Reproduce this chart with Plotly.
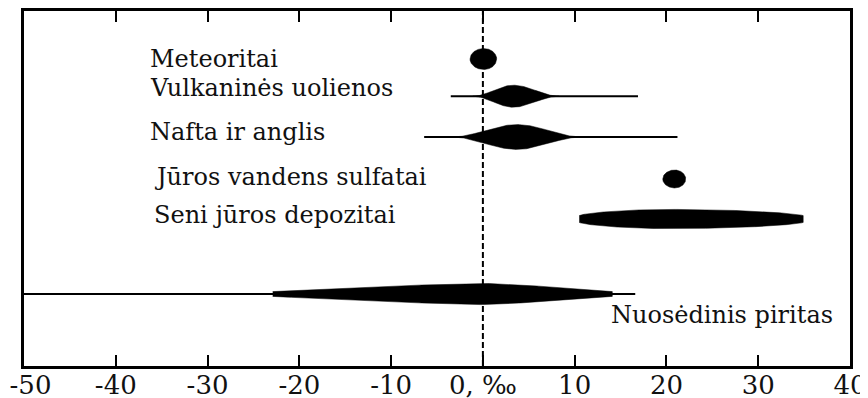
import numpy as np
import plotly.graph_objects as go

# ---- data (δ34S, ‰) ----
categories = ["Meteoritai", "Vulkaninės uolienos", "Nafta ir anglis",
              "Jūros vandens sulfatai", "Seni jūros depozitai", "Nuosėdinis piritas"]
range_min = [None, -3.5, -6.4, None, None, -50.0]
range_max = [None, 16.9, 21.2, None, None, 16.6]
core_min = [-1.4, -1.1, -3.4, 19.6, 10.5, -22.9]
core_peak = [0.1, 3.3, 3.7, 20.9, 20.4, 0.0]
core_max = [1.5, 8.3, 10.8, 22.1, 34.9, 14.1]

tick_vals = [-50, -40, -30, -20, -10, 0, 10, 20, 30, 40]
tick_text = ["-50", "-40", "-30", "-20", "-10", "0, ‰", "10", "20", "30", "40"]

# ---- layout / style (not data) ----
row_pos = [0.0, 0.93, 1.95, 3.0, 4.0, 5.875]
label_pos = [(-36.5, 0.0, "left"), (-36.5, 0.73, "left"), (-36.5, 1.83, "left"),
             (-36.1, 2.95, "left"), (-36.1, 3.9, "left"), (38.4, 6.4, "right")]
shape_kind = ["ellipse", "bell", "bell", "ellipse", "blunt", "blunt"]
thick = [0.525, 0.55, 0.62, 0.45, 0.48, 0.53]      # full thickness in row units
end_thick = [0, 0, 0, 0, 0.17, 0.12]
blunt_exp = [0, 0, 0, 0, 2.0, 1.3]
blunt_pow = [0, 0, 0, 0, 0.7, 1.0]

FONT = "DejaVu Serif"

# keep the first (edge) tick label inside the page: pad it on the left
shown_ticks = ["\u2002" + tick_text[0]] + tick_text[1:]

fig = go.Figure()

def profile(kind, u, i):
    au = np.abs(u)
    H = thick[i] / 2
    if kind == "ellipse":
        return H * np.sqrt(np.clip(1 - au ** 2, 0, 1))
    if kind == "bell":
        return H * 0.5 * (1 + np.cos(np.pi * au))
    e = end_thick[i] / 2
    return e + (H - e) * np.clip(1 - au ** blunt_exp[i], 0, 1) ** blunt_pow[i]

for i, name in enumerate(categories):
    y0 = row_pos[i]
    if range_min[i] is not None:
        fig.add_trace(go.Scatter(x=[range_min[i], range_max[i]], y=[y0, y0], mode="lines",
                                 line=dict(color="black", width=2), hoverinfo="skip",
                                 showlegend=False))
    n = 80
    uL = np.linspace(-1, 0, n)
    uR = np.linspace(0, 1, n)[1:]
    xL = core_peak[i] + uL * (core_peak[i] - core_min[i])
    xR = core_peak[i] + uR * (core_max[i] - core_peak[i])
    xs = np.concatenate([xL, xR])
    us = np.concatenate([uL, uR])
    h = profile(shape_kind[i], us, i)
    px = np.concatenate([xs, xs[::-1]])
    py = np.concatenate([y0 - h, (y0 + h)[::-1]])
    fig.add_trace(go.Scatter(x=px, y=py, mode="lines", fill="toself", fillcolor="black",
                             line=dict(color="black", width=0.5), hoverinfo="skip",
                             showlegend=False, name=name))

for i, name in enumerate(categories):
    fig.add_annotation(x=label_pos[i][0], y=label_pos[i][1], text=name, showarrow=False,
                       xanchor=label_pos[i][2], yanchor="middle",
                       font=dict(family=FONT, size=24, color="#111"))

fig.add_shape(type="line", x0=0, x1=0, y0=0, y1=1, xref="x", yref="paper",
              line=dict(color="black", width=2, dash="6px,3px"), layer="below")

# page body adds an 8px margin; figure sized to fit the 868x398 window
fig.update_layout(
    width=860, height=390,
    margin=dict(l=16, r=18, t=3, b=32, autoexpand=False),
    plot_bgcolor="white", paper_bgcolor="white",
    showlegend=False,
    xaxis=dict(range=[-50, 40], tickvals=tick_vals, ticktext=shown_ticks,
               ticks="inside", ticklen=11, tickwidth=2, tickcolor="black",
               showline=True, linecolor="black", linewidth=2.5, mirror="ticks",
               showgrid=False, zeroline=False, automargin=False,
               ticklabelstandoff=-6, ticklabeloverflow="allow",
               tickfont=dict(family=FONT, size=26, color="#111")),
    yaxis=dict(range=[7.675, -1.2], showticklabels=False, ticks="",
               showline=True, linecolor="black", linewidth=2.5, mirror=True,
               showgrid=False, zeroline=False, automargin=False),
)

fig.write_html("out.html")
